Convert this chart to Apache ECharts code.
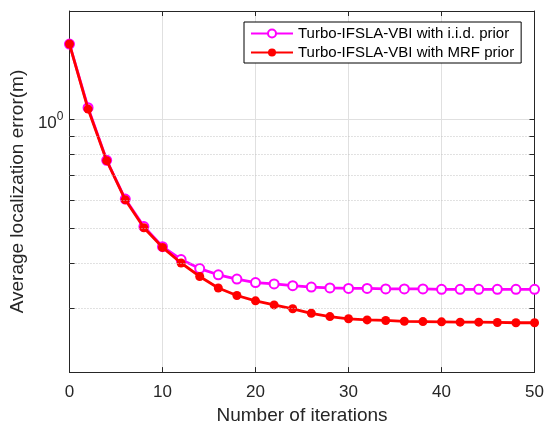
<!DOCTYPE html>
<html>
<head>
<meta charset="utf-8">
<script src="https://cdn.jsdelivr.net/npm/echarts@6/dist/echarts.min.js"></script>
<style>
html,body{margin:0;padding:0;background:#fff;}
#chart{width:547px;height:430px;}
</style>
</head>
<body>
<div id="chart"></div>
<script>
const iterations = [0,2,4,6,8,10,12,14,16,18,20,22,24,26,28,30,32,34,36,38,40,42,44,46,48,50];
const iidPrior = [1.62,1.08,0.772,0.603,0.506,0.445,0.410,0.387,0.372,0.362,0.354,0.351,0.347,0.344,0.342,0.341,0.341,0.340,0.340,0.340,0.339,0.339,0.339,0.339,0.339,0.339];
const mrfPrior = [1.62,1.07,0.770,0.600,0.502,0.443,0.401,0.368,0.342,0.326,0.315,0.307,0.2995,0.291,0.285,0.281,0.279,0.278,0.2765,0.276,0.2755,0.275,0.275,0.2745,0.274,0.274];
const seriesNames = ['Turbo-IFSLA-VBI with i.i.d. prior','Turbo-IFSLA-VBI with MRF prior'];
const minorGridValues = [0.3,0.4,0.5,0.6,0.7,0.8,0.9];
const xTicks = [0,10,20,30,40,50];

const FONT = '"Liberation Sans", Arial, Helvetica, sans-serif';
const TXT = '#262626';
const AX = '#262626';

const chart = echarts.init(document.getElementById('chart'), null, {renderer:'canvas'});

const gridLineData = minorGridValues.map(v => ({yAxis: v}));
const tickLen = 0.55;
const leftTicks = minorGridValues.map(v => [{coord:[0, v]}, {coord:[tickLen, v]}]);
const rightTicks = minorGridValues.map(v => [{coord:[50 - tickLen, v]}, {coord:[50, v]}]);

const option = {
  animation: false,
  backgroundColor: '#fff',
  grid: {left: 68, right: 10, top: 11, bottom: 53, containLabel: false},
  legend: {
    orient: 'vertical',
    left: 244, top: 22,
    data: seriesNames,
    backgroundColor: '#fff',
    borderColor: '#000',
    borderWidth: 1,
    borderRadius: 0,
    padding: [4, 7, 3, 6],
    itemWidth: 42, itemHeight: 10, itemGap: 4,
    textStyle: {fontFamily: FONT, fontSize: 15, color: '#000'}
  },
  xAxis: [{
    type: 'value', min: 0, max: 50, interval: 10,
    name: 'Number of iterations', nameLocation: 'middle', nameGap: 28,
    nameTextStyle: {fontFamily: FONT, fontSize: 19, color: TXT},
    axisLine: {show: true, onZero: false, lineStyle: {color: AX, width: 1}},
    axisTick: {show: true, inside: true, length: 5, lineStyle: {color: AX}},
    axisLabel: {fontFamily: FONT, fontSize: 17, color: TXT, margin: 12,
      formatter: v => xTicks.includes(v) ? String(v) : ''},
    splitLine: {show: true, lineStyle: {color: '#e0e0e0', width: 1}}
  }, {
    type: 'value', min: 0, max: 50, interval: 10, position: 'top',
    axisLine: {show: true, onZero: false, lineStyle: {color: AX, width: 1}},
    axisTick: {show: true, inside: true, length: 5, lineStyle: {color: AX}},
    axisLabel: {show: false}, splitLine: {show: false}
  }],
  yAxis: [{
    type: 'log', logBase: 10, min: 0.2, max: 2,
    name: 'Average localization error(m)', nameLocation: 'middle', nameGap: 37,
    nameTextStyle: {fontFamily: FONT, fontSize: 19, color: TXT},
    axisLine: {show: true, onZero: false, lineStyle: {color: AX, width: 1}},
    axisTick: {show: true, inside: true, length: 5, lineStyle: {color: AX}},
    axisLabel: {
      fontFamily: FONT, fontSize: 17, color: TXT, margin: 6,
      formatter: v => (Math.abs(v - 1) < 1e-9 ? '{b|10}{s|0}' : ''),
      rich: {
        b: {fontFamily: FONT, fontSize: 17, color: TXT, padding: [8, 0, 0, 0]},
        s: {fontFamily: FONT, fontSize: 12, color: TXT, padding: [0, 0, 6, 0]}
      }
    },
    splitLine: {show: true, lineStyle: {color: '#e0e0e0', width: 1}}
  }, {
    type: 'log', logBase: 10, min: 0.2, max: 2, position: 'right',
    axisLine: {show: true, onZero: false, lineStyle: {color: AX, width: 1}},
    axisTick: {show: true, inside: true, length: 5, lineStyle: {color: AX}},
    axisLabel: {show: false}, splitLine: {show: false}
  }],
  series: [{
    name: 'grid', type: 'line', data: [], z: 1, silent: true,
    markLine: {
      silent: true, symbol: ['none','none'], animation: false,
      label: {show: false},
      lineStyle: {color: '#c4c4c4', type: [1, 2], width: 1},
      data: gridLineData
    }
  }, {
    name: 'ticks', type: 'line', data: [], z: 5, silent: true,
    markLine: {
      silent: true, symbol: ['none','none'], animation: false,
      label: {show: false},
      lineStyle: {color: AX, type: 'solid', width: 1},
      data: leftTicks.concat(rightTicks)
    }
  }, {
    name: seriesNames[0], type: 'line', z: 3,
    data: iterations.map((x, i) => [x, iidPrior[i]]),
    symbol: 'circle', symbolSize: 9, showAllSymbol: true,
    lineStyle: {color: '#ff00ff', width: 2.8},
    itemStyle: {color: '#ffffff', borderColor: '#ff00ff', borderWidth: 2}
  }, {
    name: seriesNames[1], type: 'line', z: 4,
    data: iterations.map((x, i) => [x, mrfPrior[i]]),
    symbol: 'circle', symbolSize: 9, showAllSymbol: true,
    lineStyle: {color: '#ff0000', width: 2.8},
    itemStyle: {color: '#ff0000', borderColor: '#ff0000', borderWidth: 0}
  }]
};
chart.setOption(option);
</script>
</body>
</html>
